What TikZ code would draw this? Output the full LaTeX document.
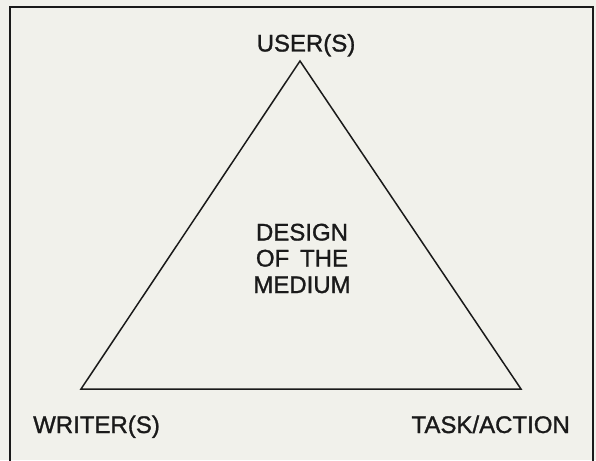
\documentclass[tikz,border=0pt]{standalone}
\usepackage{fontspec}
\setmainfont{Liberation Sans}
\newfontfamily\labelfont[FakeBold=1.2]{Liberation Sans}
\definecolor{paper}{HTML}{F1F1EB}
\definecolor{ink}{HTML}{1A1A1A}
\begin{document}
\begin{tikzpicture}[x=1pt,y=-1pt,
  lbl/.style={font=\labelfont\fontsize{24}{26}\selectfont, text=ink, inner sep=0pt},
  edge/.style={draw=ink, line width=1.5pt, line join=miter}]
\useasboundingbox (0,0) rectangle (596,460);
\fill[paper] (0,0) rectangle (596,460);
% frame (open at bottom)
\draw[draw=ink, line width=1.7pt] (10,470) -- (10,7) -- (593,7) -- (593,470);
% triangle corners
\coordinate (A) at (300,61);
\coordinate (B) at (81,389);
\coordinate (C) at (521,389);
\draw[edge] (A) -- (B) -- (C) -- cycle;
% labels
\node[lbl, anchor=base] (user) at (306,51.5) {USER(S)};
\node[lbl, anchor=base west] (writer) at (33,433) {WRITER(S)};
\node[lbl, anchor=base east] (task) at (570,433) {TASK/ACTION};
\node[lbl, anchor=base] (d1) at (302,240.5) {DESIGN};
\node[lbl, anchor=base] (d2) at (302,266.5) {OF\hspace{0.45em}THE};
\node[lbl, anchor=base] (d3) at (302,293) {MEDIUM};
\end{tikzpicture}
\end{document}
